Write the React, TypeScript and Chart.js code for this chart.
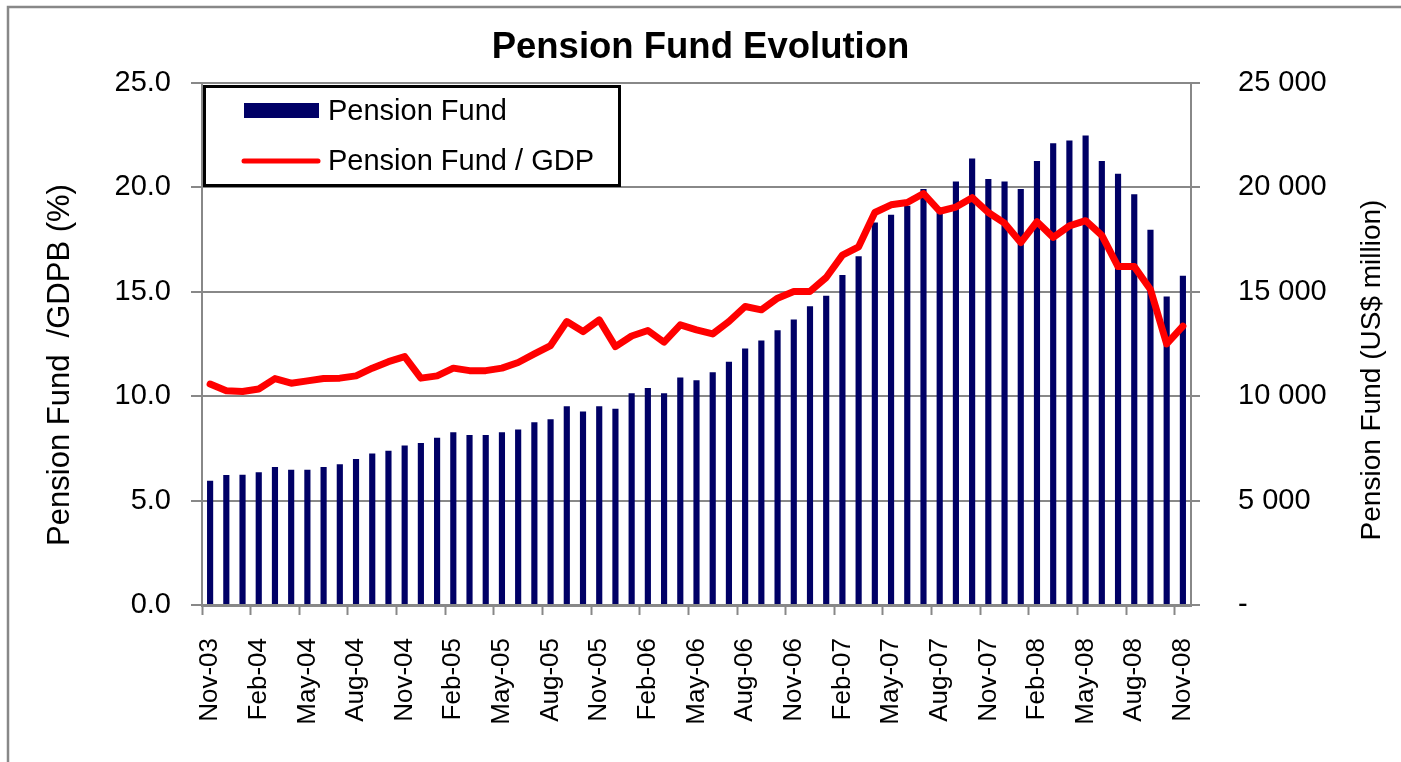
import React, { useEffect, useRef } from "react";
import { Chart, registerables } from "chart.js";

Chart.register(...registerables);

const months = [
  "Nov-03", "Dec-03",
  "Jan-04", "Feb-04", "Mar-04", "Apr-04", "May-04", "Jun-04", "Jul-04", "Aug-04", "Sep-04", "Oct-04", "Nov-04", "Dec-04",
  "Jan-05", "Feb-05", "Mar-05", "Apr-05", "May-05", "Jun-05", "Jul-05", "Aug-05", "Sep-05", "Oct-05", "Nov-05", "Dec-05",
  "Jan-06", "Feb-06", "Mar-06", "Apr-06", "May-06", "Jun-06", "Jul-06", "Aug-06", "Sep-06", "Oct-06", "Nov-06", "Dec-06",
  "Jan-07", "Feb-07", "Mar-07", "Apr-07", "May-07", "Jun-07", "Jul-07", "Aug-07", "Sep-07", "Oct-07", "Nov-07", "Dec-07",
  "Jan-08", "Feb-08", "Mar-08", "Apr-08", "May-08", "Jun-08", "Jul-08", "Aug-08", "Sep-08", "Oct-08", "Nov-08",
];

// Pension Fund, US$ million (right axis)
const pensionFund = [
  5950, 6220, 6230, 6350, 6610, 6480, 6480, 6610, 6740, 6990,
  7250, 7380, 7630, 7760, 8010, 8270, 8140, 8140, 8270, 8400,
  8750, 8890, 9510, 9260, 9510, 9390, 10140, 10390, 10140, 10890,
  10760, 11140, 11650, 12280, 12660, 13150, 13670, 14300, 14800, 15800,
  16700, 18310, 18680, 19110, 19910, 18790, 20270, 21370, 20400, 20270,
  19910, 21260, 22110, 22240, 22480, 21260, 20640, 19670, 17960, 14770,
  15760,
];

// Pension Fund / GDP, % (left axis)
const pensionFundGdp = [
  10.58, 10.26, 10.22, 10.34, 10.84, 10.62, 10.73, 10.84, 10.86, 10.97,
  11.34, 11.65, 11.89, 10.86, 10.97, 11.34, 11.22, 11.22, 11.34, 11.61,
  12.02, 12.42, 13.57, 13.09, 13.65, 12.37, 12.88, 13.14, 12.58, 13.41,
  13.17, 12.98, 13.57, 14.29, 14.13, 14.69, 15.01, 15.01, 15.68, 16.75,
  17.15, 18.79, 19.16, 19.27, 19.7, 18.85, 19.05, 19.5, 18.79, 18.28,
  17.35, 18.35, 17.6, 18.15, 18.4, 17.7, 16.2, 16.2, 15.1, 12.5,
  13.35,
];

const titleText = "Pension Fund Evolution";
const leftAxisTitle = "Pension Fund  /GDPB (%)";
const rightAxisTitle = "Pension Fund (US$ million)";
const legendLabels = ["Pension Fund", "Pension Fund / GDP"];

const FONT = "'Liberation Sans', Arial, sans-serif";
const NAVY = "#000066";
const RED = "#ff0000";
const GRID = "#888888";
const W = 1401;
const H = 762;

const decor = {
  id: "decor",
  beforeDraw(chart: any) {
    const { ctx } = chart;
    ctx.save();
    ctx.fillStyle = "#ffffff";
    ctx.fillRect(0, 0, W, H);
    ctx.strokeStyle = GRID;
    ctx.lineWidth = 2.5;
    ctx.beginPath();
    ctx.moveTo(8, H);
    ctx.lineTo(8, 7);
    ctx.lineTo(W, 7);
    ctx.stroke();
    ctx.restore();
  },
  afterDatasetsDraw(chart: any) {
    const { ctx } = chart;
    ctx.save();
    ctx.fillStyle = "#ffffff";
    ctx.fillRect(204, 86, 416, 100);
    ctx.strokeStyle = "#000000";
    ctx.lineWidth = 3;
    ctx.strokeRect(204.5, 86.5, 415, 99);
    ctx.fillStyle = NAVY;
    ctx.fillRect(244, 103, 75, 15);
    ctx.strokeStyle = RED;
    ctx.lineWidth = 5;
    ctx.lineCap = "round";
    ctx.beginPath();
    ctx.moveTo(244, 161);
    ctx.lineTo(318, 161);
    ctx.stroke();
    ctx.fillStyle = "#000000";
    ctx.font = `29px ${FONT}`;
    ctx.textAlign = "left";
    ctx.textBaseline = "middle";
    ctx.fillText(legendLabels[0], 328, 112);
    ctx.fillText(legendLabels[1], 328, 162);
    ctx.restore();
  },
  afterDraw(chart: any) {
    const { ctx } = chart;
    ctx.save();
    ctx.fillStyle = "#000000";
    ctx.textAlign = "center";
    ctx.textBaseline = "middle";
    ctx.font = `31px ${FONT}`;
    ctx.translate(60, 365);
    ctx.rotate(-Math.PI / 2);
    ctx.fillText(leftAxisTitle, 0, 0);
    ctx.restore();
    ctx.save();
    ctx.fillStyle = "#000000";
    ctx.textAlign = "center";
    ctx.textBaseline = "middle";
    ctx.font = `28px ${FONT}`;
    ctx.translate(1372, 370);
    ctx.rotate(-Math.PI / 2);
    ctx.fillText(rightAxisTitle, 0, 0);
    ctx.restore();
  },
};

export default function App() {
  const ref = useRef<HTMLCanvasElement | null>(null);
  useEffect(() => {
    if (!ref.current) return;
    const chart = new Chart(ref.current, {
      type: "bar",
      data: {
        labels: months,
        datasets: [
          {
            type: "line",
            label: legendLabels[1],
            data: pensionFundGdp,
            yAxisID: "y",
            borderColor: RED,
            backgroundColor: RED,
            borderWidth: 7,
            pointRadius: 0,
            tension: 0,
            borderJoinStyle: "round",
            borderCapStyle: "round",
            order: 0,
          } as any,
          {
            type: "bar",
            label: legendLabels[0],
            data: pensionFund,
            yAxisID: "y2",
            backgroundColor: NAVY,
            barPercentage: 0.38,
            categoryPercentage: 1,
            order: 1,
          },
        ],
      },
      plugins: [decor],
      options: {
        responsive: false,
        animation: false,
        layout: { padding: 0 },
        plugins: {
          legend: { display: false },
          tooltip: { enabled: false },
          title: {
            display: true,
            text: titleText,
            color: "#000000",
            font: { family: FONT, size: 36.5, weight: "bold" },
            padding: { top: 26, bottom: 13 },
          },
        },
        scales: {
          x: {
            offset: true,
            grid: {
              offset: true,
              drawOnChartArea: false,
              drawTicks: true,
              tickLength: 10,
              tickWidth: 2,
              tickColor: (c: any) => (c.index % 3 === 0 && c.index < months.length ? GRID : "rgba(0,0,0,0)"),
            },
            border: { display: true, color: GRID, width: 3 },
            ticks: {
              autoSkip: false,
              maxRotation: 90,
              minRotation: 90,
              padding: 23,
              color: "#000000",
              font: { family: FONT, size: 26 },
              callback: (_v: any, i: number) => (i % 3 === 0 ? months[i] : ""),
            },
            afterFit: (s: any) => {
              s.height = H - 605;
            },
          },
          y: {
            position: "left",
            min: 0,
            max: 25,
            grid: { color: GRID, lineWidth: 2, tickLength: 11 },
            border: { display: true, color: GRID, width: 2 },
            ticks: {
              stepSize: 5,
              padding: 20,
              color: "#000000",
              font: { family: FONT, size: 29 },
              callback: (v: any) => Number(v).toFixed(1),
            },
            afterFit: (s: any) => {
              s.width = 202;
            },
          },
          y2: {
            position: "right",
            min: 0,
            max: 25000,
            grid: { drawOnChartArea: false, color: GRID, lineWidth: 2, tickLength: 9 },
            border: { display: true, color: GRID, width: 2 },
            ticks: {
              stepSize: 5000,
              padding: 38,
              color: "#000000",
              font: { family: FONT, size: 29 },
              callback: (v: any) => {
                const n = Number(v);
                if (n === 0) return "-";
                return n.toString().replace(/\B(?=(\d{3})+(?!\d))/g, " ");
              },
            },
            afterFit: (s: any) => {
              s.width = W - 1191;
            },
          },
        },
      },
    });
    return () => chart.destroy();
  }, []);
  return (
    <div style={{ position: "absolute", left: 0, top: 0, width: W, height: H, overflow: "hidden" }}>
      <canvas ref={ref} width={W} height={H} style={{ display: "block", width: W, height: H }} />
    </div>
  );
}
